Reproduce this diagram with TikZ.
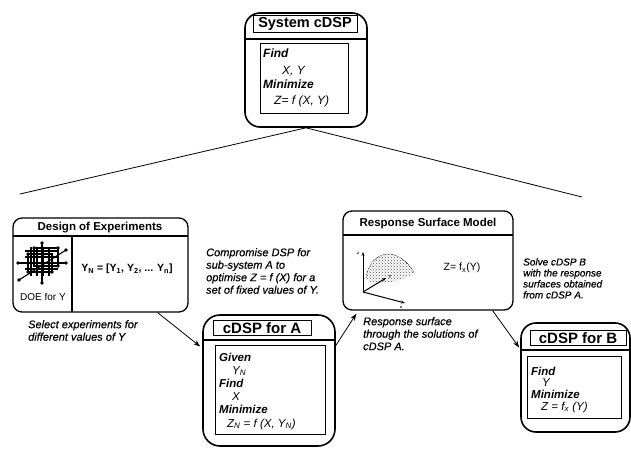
\documentclass[tikz,border=0pt]{standalone}
\usepackage{fontspec}
\setmainfont{Liberation Sans}
\newfontfamily\notefont[FakeBold=0.5]{Liberation Sans Italic}
\usetikzlibrary{arrows.meta,patterns}
\begin{document}
\begin{tikzpicture}[x=1pt,y=-1pt,
  outer/.style={draw,line width=1.6pt,inner sep=0pt},
  frame/.style={draw,line width=0.9pt,inner sep=0pt},
  ttl/.style={inner sep=0pt,font=\fontsize{15}{15}\selectfont\bfseries},
  hdr/.style={inner sep=0pt,font=\fontsize{11.5}{12}\selectfont\bfseries},
  note/.style={align=left,inner sep=0pt,anchor=north west,font=\fontsize{11}{12.5}\selectfont\notefont},
  kw/.style={inner sep=0pt,anchor=base west,font=\bfseries\itshape},
  val/.style={inner sep=0pt,anchor=base west,font=\itshape},
  arr/.style={-{Stealth[length=7pt,width=5pt]},line width=0.8pt},
  dotn/.style={circle,fill,inner sep=0pt,minimum size=3.6pt},
  thin/.style={line width=0.8pt}
]
\useasboundingbox (0,0) rectangle (631,448);

% ---------- System cDSP ----------
\node[outer,rounded corners=15pt,minimum width=122pt,minimum height=114pt] (sys) at (306,70) {};
\node[frame,minimum width=104pt,minimum height=17pt] (systb) at (305,23.5) {};
\node[ttl,font=\fontsize{14.5}{15}\selectfont\bfseries] (systt) at (305,24) {System cDSP};
\draw[line width=1.2pt] (245,39) -- (367,39);
\node[frame,minimum width=88pt,minimum height=70pt] (sysin) at (304,78) {};
\node[kw,font=\fontsize{12}{14}\selectfont\bfseries\itshape] (s1) at (263,57) {Find};
\node[val,font=\fontsize{12}{14}\selectfont\itshape] (s2) at (282,74) {X, Y};
\node[kw,font=\fontsize{12}{14}\selectfont\bfseries\itshape] (s3) at (263,88) {Minimize};
\node[val,font=\fontsize{12}{14}\selectfont\itshape] (s4) at (274,104) {Z= f (X, Y)};

\coordinate (lend) at (20,194);
\coordinate (rend) at (582,197);
\draw[thin] (lend) -- (sys.south) -- (rend);

% ---------- Design of Experiments ----------
\node[outer,line width=1.3pt,rounded corners=9pt,minimum width=175pt,minimum height=94pt] (doe) at (100.5,265) {};
\node[hdr] (doet) at (100,227.5) {Design of Experiments};
\draw[line width=1.1pt] (13,236) -- (188,236);
\draw[line width=1.1pt] (72,236) -- (72,312);
\node[inner sep=0pt,font=\fontsize{10.5}{12}\selectfont\bfseries] (yn) at (127,269) {Y\textsubscript{N} = [Y\textsubscript{1}, Y\textsubscript{2}, ... Y\textsubscript{n}]};
\node[inner sep=0pt,font=\fontsize{10}{12}\selectfont] (doey) at (43,297) {DOE for Y};
% DOE icon (grid cube)
\begin{scope}[line width=1.1pt]
  \foreach \x in {31,37,43,49} \draw (\x,247) -- (\x,276);
  \foreach \y in {251,257,263,269} \draw (25,\y) -- (58,\y);
  \draw (28,254) rectangle (52,272);
  \draw (34,248) rectangle (58,266);
  \draw (42,243) -- (42,283);
  \draw (18,263) -- (66,263);
  \draw (19,280) -- (66,250);
  \foreach \p in {(42,243),(42,283),(18,263),(66,263),(19,280),(66,250),(28,272),(52,272),(34,248),(58,266),(28,254),(58,248)}
    \node[dotn] at \p {};
\end{scope}

% ---------- Response Surface Model ----------
\node[outer,line width=1.3pt,rounded corners=9pt,minimum width=170pt,minimum height=99pt] (rsm) at (428,260.5) {};
\node[hdr] (rsmt) at (428,223.5) {Response Surface Model};
\draw[line width=1.1pt] (343,235) -- (513,235);
\node[inner sep=0pt,font=\fontsize{10.5}{12}\selectfont] (zf) at (462,268) {Z= f\textsubscript{x}(Y)};
% surface icon
\fill[pattern=crosshatch dots,pattern color=black!70] (366,280) .. controls (368,263) and (378,253) .. (390,254) .. controls (400,255) and (410,264) .. (414,273) .. controls (405,279) and (392,283) .. (380,283) .. controls (374,283) and (369,282) .. (366,280) -- cycle;
\draw[densely dotted,line width=0.6pt] (366,278) .. controls (368,263) and (378,253) .. (390,254) .. controls (400,255) and (410,264) .. (414,273);
\draw[-{Stealth[length=4pt,width=3pt]},line width=1pt] (363,292) -- (363,252);
\draw[-{Stealth[length=4pt,width=3pt]},line width=1pt] (363,292) -- (386,278);
\draw[-{Stealth[length=4pt,width=3pt]},line width=1pt] (363,292) -- (405,303);
\node[inner sep=0pt,font=\fontsize{4}{4}\selectfont\bfseries] (lz) at (358,253) {z};
\node[inner sep=0pt,font=\fontsize{4}{4}\selectfont\bfseries] (ly) at (390,277) {y};
\node[inner sep=0pt,font=\fontsize{4}{4}\selectfont\bfseries] (lx) at (401,307) {x};

% ---------- cDSP for A ----------
\node[outer,rounded corners=17pt,minimum width=132pt,minimum height=131pt] (cdspA) at (269,380.5) {};
\node[frame,minimum width=98pt,minimum height=15pt] (atb) at (262,327.5) {};
\node[ttl] (att) at (262,328) {cDSP for A};
\draw[line width=1.2pt] (203,340) -- (335,340);
\node[frame,minimum width=110pt,minimum height=89pt] (ain) at (270,389.5) {};
\node[kw,font=\fontsize{11.5}{13}\selectfont\bfseries\itshape] (a1) at (219,361) {Given};
\node[val,font=\fontsize{11.5}{13}\selectfont\itshape] (a2) at (232,374) {Y\textsubscript{N}};
\node[kw,font=\fontsize{11.5}{13}\selectfont\bfseries\itshape] (a3) at (219,387) {Find};
\node[val,font=\fontsize{11.5}{13}\selectfont\itshape] (a4) at (232,400) {X};
\node[kw,font=\fontsize{11.5}{13}\selectfont\bfseries\itshape] (a5) at (219,413) {Minimize};
\node[val,font=\fontsize{11.5}{13}\selectfont\itshape] (a6) at (227,427) {Z\textsubscript{N} = f (X, Y\textsubscript{N})};

% ---------- cDSP for B ----------
\node[outer,rounded corners=15pt,minimum width=109pt,minimum height=109pt] (cdspB) at (575.5,377.5) {};
\node[frame,minimum width=96pt,minimum height=15pt] (btb) at (578,337.5) {};
\node[ttl] (btt) at (578,338) {cDSP for B};
\draw[line width=1.2pt] (521,350) -- (630,350);
\node[frame,minimum width=94pt,minimum height=62pt] (bin) at (574,387) {};
\node[kw,font=\fontsize{11.5}{13}\selectfont\bfseries\itshape] (b1) at (531,375) {Find};
\node[val,font=\fontsize{11.5}{13}\selectfont\itshape] (b2) at (542,386) {Y};
\node[kw,font=\fontsize{11.5}{13}\selectfont\bfseries\itshape] (b3) at (531,398) {Minimize};
\node[val,font=\fontsize{11.5}{13}\selectfont\itshape] (b4) at (541,410) {Z = f\textsubscript{x} (Y)};

% ---------- notes ----------
\node[note] (ncomp) at (206,248) {Compromise DSP for\\sub-system A to\\optimise Z = f (X) for a\\set of fixed values of Y.};
\node[note] (nsel) at (28,320) {Select experiments for\\different values of Y};
\node[note] (nresp) at (363,317) {Response surface\\through the solutions of\\cDSP A.};
\node[note,font=\fontsize{10}{11}\selectfont\notefont] (nsolve) at (523,258) {Solve cDSP B\\with the response\\surfaces obtained\\from cDSP A.};

% ---------- arrows ----------
\draw[arr] ([xshift=-31pt]doe.south east) -- ([xshift=-2pt,yshift=34pt]cdspA.west);
\draw[arr] ([yshift=35pt]cdspA.east) -- ([xshift=14pt,yshift=-3pt]rsm.south west);
\draw[arr] ([xshift=-21pt]rsm.south east) -- ([xshift=-1pt,yshift=30pt]cdspB.west);
\end{tikzpicture}
\end{document}
